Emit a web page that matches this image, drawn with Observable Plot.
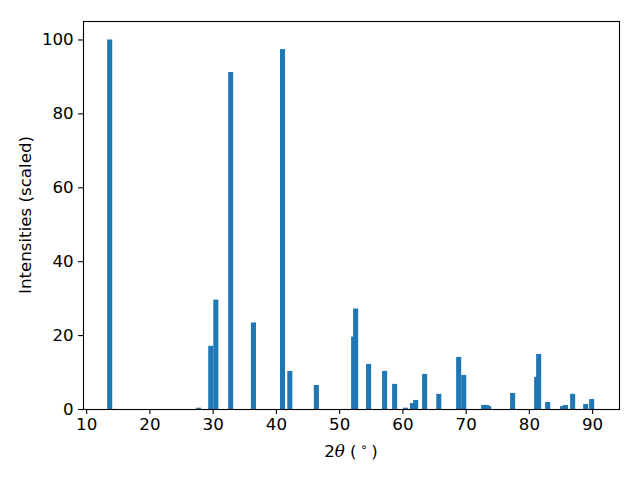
<!DOCTYPE html>
<html>
<head>
<meta charset="utf-8">
<script src="https://cdn.jsdelivr.net/npm/d3@7"></script>
<script src="https://cdn.jsdelivr.net/npm/@observablehq/plot@0.6"></script>
<style>
  html, body { margin: 0; padding: 0; background: white; }
</style>
</head>
<body>
<div id="chart"></div>
<script>
// Peak positions (2θ, degrees) and scaled intensities
const twoTheta = [13.72, 27.77, 29.7, 30.5, 32.85, 36.45, 41.05, 42.2, 46.4, 52.29, 52.61, 54.66, 57.19, 58.77, 60.5, 61.6, 62.1, 63.52, 65.76, 68.9, 69.7, 72.85, 73.3, 73.64, 77.43, 81.23, 81.55, 82.97, 85.34, 85.8, 86.92, 88.98, 89.93];
const intensities = [100, 0.35, 17.1, 29.6, 91.2, 23.4, 97.4, 10.3, 6.5, 19.6, 27.2, 12.2, 10.3, 6.8, 0.35, 1.6, 2.45, 9.5, 4.1, 14.1, 9.2, 1.1, 1.1, 0.8, 4.35, 8.7, 14.9, 1.9, 0.8, 1.1, 4.1, 1.35, 2.7];
const xTicks = [10, 20, 30, 40, 50, 60, 70, 80, 90];
const yTicks = [0, 20, 40, 60, 80, 100];
const yLabel = "Intensities (scaled)";

const barWidth = 0.8;
const data = twoTheta.map((t, i) => ({t, v: intensities[i]}));

const W = 640, H = 480, mL = 83, mR = 21, mT = 21, mB = 71;
const fs = 16.67;

const chart = Plot.plot({
  width: W, height: H,
  marginLeft: mL, marginRight: mR, marginTop: mT, marginBottom: mB,
  style: {fontFamily: "DejaVu Sans", fontSize: fs + "px", background: "white", color: "black"},
  x: {domain: [9.5, 94.25], label: null},
  y: {domain: [0, 105], label: null},
  marks: [
    Plot.rectY(data, {x1: d => d.t - barWidth / 2, x2: d => d.t + barWidth / 2, y1: 0, y2: "v", fill: "#1f77b4"}),
    Plot.frame({stroke: "black", strokeWidth: 1.1}),
    Plot.axisX({ticks: xTicks, tickSize: 4.9, tickPadding: 3.5, tickFormat: d => String(d), fontSize: fs, strokeWidth: 1.1, label: null}),
    Plot.axisY({ticks: yTicks, tickSize: 4.9, tickPadding: 4.9, tickFormat: d => String(d), fontSize: fs, strokeWidth: 1.1, label: null})
  ]
});

const svg = d3.select(chart);
svg.selectAll("g[aria-label='x-axis tick label'] text, g[aria-label='y-axis tick label'] text")
  .attr("font-size", fs);
// y axis title
svg.append("text")
  .attr("transform", `translate(30.5,${(mT + H - mB) / 2}) rotate(-90)`)
  .attr("text-anchor", "middle")
  .attr("font-family", "DejaVu Sans")
  .attr("font-size", fs)
  .attr("fill", "black")
  .text(yLabel);
// x axis title: 2θ (°)
const xt = svg.append("text")
  .attr("x", (mL + W - mR) / 2)
  .attr("y", 457)
  .attr("text-anchor", "middle")
  .attr("font-family", "DejaVu Sans")
  .attr("font-size", fs)
  .attr("fill", "black");
xt.append("tspan").text("2");
xt.append("tspan").attr("font-style", "italic").attr("font-family", "DejaVu Serif").text("θ");
xt.append("tspan").text(" (");
xt.append("tspan").attr("font-size", fs * 0.7).attr("dy", -6).text(" ∘ ");
xt.append("tspan").attr("dy", 6).text(")");

document.getElementById("chart").appendChild(chart);
</script>
</body>
</html>
